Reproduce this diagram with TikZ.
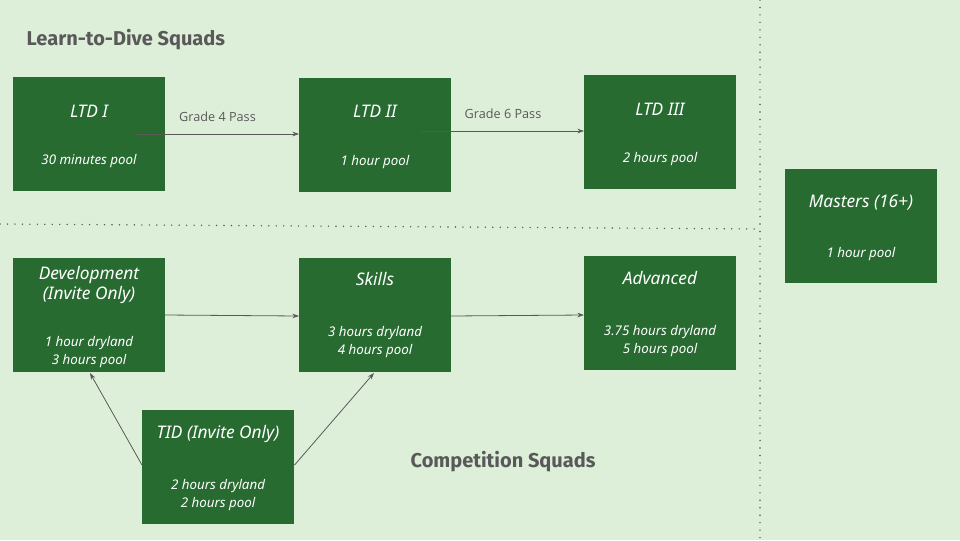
\documentclass[tikz,border=0pt]{standalone}
\usepackage{fontspec}
\setmainfont{Open Sans}
\newfontfamily\hand{Noto Sans}
\newfontfamily\heads{Fira Sans}
\usetikzlibrary{arrows.meta}
\definecolor{bg}{HTML}{DEEFD9}
\definecolor{box}{HTML}{276B30}
\definecolor{txt}{HTML}{595959}
\begin{document}
\begin{tikzpicture}[x=0.75pt,y=-0.75pt,
  bx/.style={fill=box,draw=none,minimum width=114pt,minimum height=85.5pt,anchor=north west,inner sep=0},
  tt/.style={text=white,font=\hand\itshape\fontsize{13}{15}\selectfont,align=center},
  st/.style={text=white,font=\hand\itshape\fontsize{10}{14}\selectfont,align=center},
  ar/.style={draw=txt,line width=0.6pt,-{Stealth[length=5pt,width=3.5pt]}},
  dl/.style={draw=txt,line width=1.2pt,dash pattern=on 0pt off 5.6pt,line cap=round},
  hd/.style={text=txt,font=\heads\bfseries\fontsize{15}{18}\selectfont,anchor=west}]
\fill[bg] (0,0) rectangle (960,540);
\useasboundingbox (0,0) rectangle (960,540);
\draw[dl] (0,224) -- (760,229);
\draw[dl] (760,0) -- (760,540);
\node[hd] (h1) at (22,40) {Learn-to-Dive Squads};
\node[hd] (h2) at (406,462) {Competition Squads};
\node[bx] (l1) at (13,77) {};
\node[bx] (l2) at (299,78) {};
\node[bx] (l3) at (584,75) {};
\node[bx] (dv) at (13,258) {};
\node[bx] (sk) at (299,258) {};
\node[bx] (ad) at (584,256) {};
\node[bx] (td) at (142,410) {};
\node[bx] (ms) at (785,169) {};
\node[tt] at (89,111) {LTD I};
\node[st] at (89,161) {30 minutes pool};
\node[tt] at (375,111) {LTD II};
\node[st] at (375,162) {1 hour pool};
\node[tt] at (660,109) {LTD III};
\node[st] at (660,159) {2 hours pool};
\node[tt] at (89,285) {Development\\(Invite Only)};
\node[st] at (89,352) {1 hour dryland\\3 hours pool};
\node[tt] at (375,279) {Skills};
\node[st] at (375,342) {3 hours dryland\\4 hours pool};
\node[tt] at (660,278) {Advanced};
\node[st] at (660,341) {3.75 hours dryland\\5 hours pool};
\node[tt] at (218,434) {TID (Invite Only)};
\node[st] at (218,495) {2 hours dryland\\2 hours pool};
\node[tt] at (861,203) {Masters (16+)};
\node[st] at (861,254) {1 hour pool};
\coordinate (a1) at (136,134);
\coordinate (a2) at (422,131);
\draw[ar] (a1) -- (l2.west |- a1) node[midway,above=6pt,text=txt,font=\fontsize{9.5}{11}\selectfont]{Grade 4 Pass};
\draw[ar] (a2) -- (l3.west |- a2) node[midway,above=6pt,text=txt,font=\fontsize{9.5}{11}\selectfont]{Grade 6 Pass};
\draw[ar] (165,315) -- (sk.west |- 0,316);
\draw[ar] (451,316) -- (ad.west |- 0,315);
\draw[ar] (td.west |- 0,465) -- (90,373);
\draw[ar] (td.east |- 0,465) -- (374,373);
\end{tikzpicture}
\end{document}
